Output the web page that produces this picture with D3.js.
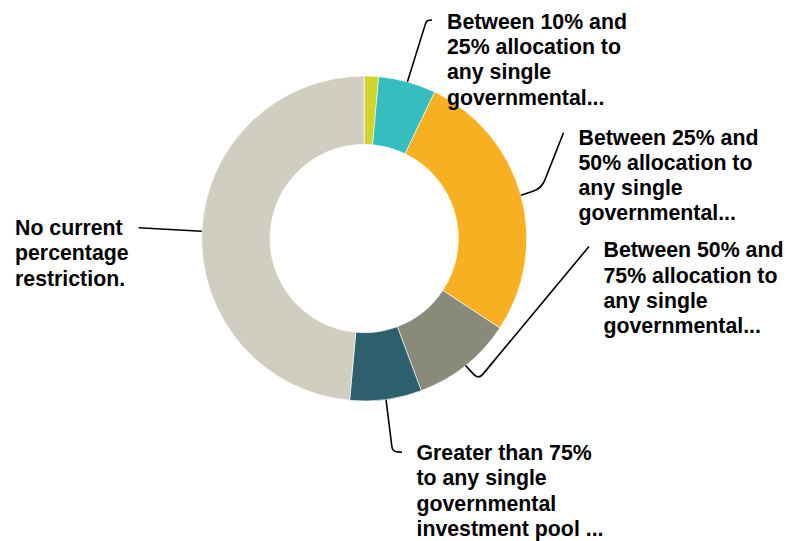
<!DOCTYPE html>
<html>
<head>
<meta charset="utf-8">
<script src="https://cdn.jsdelivr.net/npm/d3@7"></script>
<style>
  html, body { margin: 0; padding: 0; background: #fff; }
  svg { display: block; }
</style>
</head>
<body>
<svg id="chart" width="790" height="541"></svg>
<script>
// Share of respondents by allocation limit to a single governmental investment pool
const categories = [
  "Less than 10% allocation to any single governmental...",
  "Between 10% and 25% allocation to any single governmental...",
  "Between 25% and 50% allocation to any single governmental...",
  "Between 50% and 75% allocation to any single governmental...",
  "Greater than 75% to any single governmental investment pool ...",
  "No current percentage restriction."
];
const counts = [1, 4, 19, 7, 5, 34];
const colors = ["#D1D42B", "#35BDBF", "#F6B022", "#8A8A7B", "#2E5F6C", "#CFCEC0"];

// Wrapped label lines for each slice (null = no label drawn)
const labelLines = [
  null,
  ["Between 10% and", "25% allocation to", "any single", "governmental..."],
  ["Between 25% and", "50% allocation to", "any single", "governmental..."],
  ["Between 50% and", "75% allocation to", "any single", "governmental..."],
  ["Greater than 75%", "to any single", "governmental", "investment pool ..."],
  ["No current", "percentage", "restriction."]
];

// Label placement: text anchor (left x, first baseline), leader elbow and leader end
const labelLayout = [
  null,
  { x: 447, y: 28.8, elbow: [426.5, 20.5], end: [432, 20], r: 5 },
  { x: 578.5, y: 144.5, elbow: [541.5, 188.5], end: [563.5, 132.8], r: 9 },
  { x: 603.5, y: 257.2, elbow: [478.5, 379.5], end: [589, 246.5], r: 7 },
  { x: 416.5, y: 460, elbow: [392.5, 451.5], end: [402, 452.3], r: 10 },
  { x: 15, y: 235, elbow: [170, 229.5], end: [138.5, 227.8], r: 0 }
];

const width = 790, height = 541;
const cx = 364.2, cy = 238.5;
const outerR = 162.5, innerR = 94.2;
const fontSize = 21.3, lineHeight = 25.3;

const svg = d3.select("#chart");
const g = svg.append("g").attr("transform", `translate(${cx},${cy})`);

const pie = d3.pie().sort(null).value(d => d);
const arcs = pie(counts);
const arc = d3.arc().innerRadius(innerR).outerRadius(outerR);

g.selectAll("path.slice")
  .data(arcs)
  .join("path")
  .attr("class", "slice")
  .attr("d", arc)
  .attr("fill", (d, i) => colors[i])
  .attr("stroke", "#ffffff")
  .attr("stroke-width", 0.6);

// Leader line with a rounded elbow
function leaderPath(p0, p1, p2, r) {
  const d01 = Math.hypot(p1[0] - p0[0], p1[1] - p0[1]);
  const d12 = Math.hypot(p2[0] - p1[0], p2[1] - p1[1]);
  const rr = Math.min(r, d01 / 2, d12 / 2);
  if (rr <= 0) return `M${p0}L${p1}L${p2}`;
  const a = [p1[0] - (p1[0] - p0[0]) / d01 * rr, p1[1] - (p1[1] - p0[1]) / d01 * rr];
  const b = [p1[0] + (p2[0] - p1[0]) / d12 * rr, p1[1] + (p2[1] - p1[1]) / d12 * rr];
  return `M${p0}L${a}Q${p1} ${b}L${p2}`;
}

const labelled = arcs.map((a, i) => ({ a, i })).filter(d => labelLines[d.i]);

svg.selectAll("path.leader")
  .data(labelled)
  .join("path")
  .attr("class", "leader")
  .attr("fill", "none")
  .attr("stroke", "#000")
  .attr("stroke-width", 1.6)
  .attr("d", d => {
    const mid = (d.a.startAngle + d.a.endAngle) / 2;
    const start = [cx + outerR * Math.sin(mid), cy - outerR * Math.cos(mid)];
    const L = labelLayout[d.i];
    return leaderPath(start, L.elbow, L.end, L.r);
  });

const texts = svg.selectAll("text.label")
  .data(labelled)
  .join("text")
  .attr("class", "label")
  .attr("x", d => labelLayout[d.i].x)
  .attr("y", d => labelLayout[d.i].y)
  .attr("font-family", "'Liberation Sans', Arial, Helvetica, sans-serif")
  .attr("font-weight", "bold")
  .attr("font-size", fontSize)
  .attr("fill", "#000");

texts.selectAll("tspan")
  .data(d => labelLines[d.i].map(t => ({ t, x: labelLayout[d.i].x })))
  .join("tspan")
  .attr("x", d => d.x)
  .attr("dy", (d, j) => j === 0 ? 0 : lineHeight)
  .text(d => d.t);
</script>
</body>
</html>
